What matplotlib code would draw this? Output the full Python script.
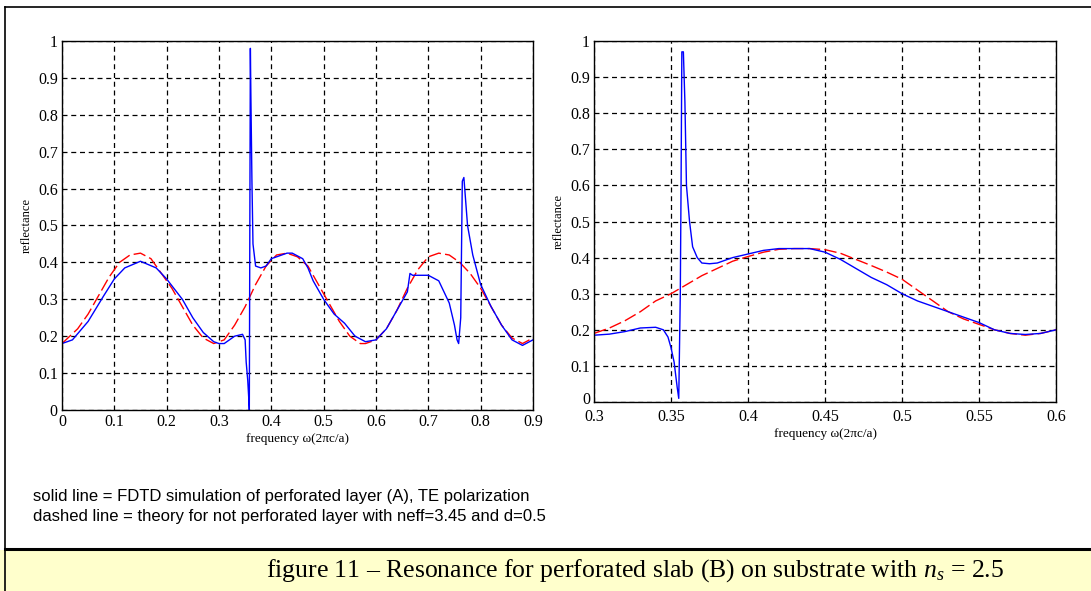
import numpy as np
import matplotlib.pyplot as plt
import matplotlib.transforms as mtransforms
from matplotlib.lines import Line2D
from matplotlib.patches import Rectangle

# left panel: full range
fdtd_left_x = [0.0, 0.02, 0.05, 0.08, 0.10, 0.12, 0.15, 0.18, 0.20, 0.23, 0.25, 0.27,
               0.29, 0.30, 0.31, 0.33, 0.345, 0.35, 0.352, 0.355, 0.357, 0.358, 0.359,
               0.36, 0.361, 0.363, 0.365, 0.37, 0.38, 0.39, 0.40, 0.42, 0.43, 0.44,
               0.46, 0.47, 0.48, 0.50, 0.52, 0.54, 0.56, 0.58, 0.60, 0.62, 0.64, 0.66,
               0.665, 0.67, 0.70, 0.72, 0.73, 0.74, 0.75, 0.755, 0.758, 0.762, 0.765,
               0.768, 0.775, 0.785, 0.80, 0.82, 0.84, 0.86, 0.88, 0.90]
fdtd_left_y = [0.18, 0.19, 0.24, 0.31, 0.355, 0.385, 0.403, 0.385, 0.355, 0.30, 0.25, 0.21,
               0.185, 0.18, 0.18, 0.20, 0.205, 0.19, 0.13, 0.08, 0.03, 0.0, 0.5,
               0.98, 0.85, 0.62, 0.45, 0.39, 0.385, 0.39, 0.41, 0.42, 0.425, 0.425,
               0.41, 0.385, 0.35, 0.30, 0.26, 0.235, 0.20, 0.185, 0.19, 0.22, 0.27, 0.32,
               0.37, 0.365, 0.365, 0.35, 0.32, 0.29, 0.23, 0.19, 0.18, 0.25, 0.62,
               0.63, 0.50, 0.42, 0.34, 0.28, 0.23, 0.19, 0.175, 0.19]

theory_left_x = [0.0, 0.03, 0.05, 0.07, 0.09, 0.11, 0.13, 0.15, 0.17, 0.19, 0.21, 0.23,
                 0.25, 0.27, 0.29, 0.31, 0.33, 0.35, 0.37, 0.39, 0.41, 0.43, 0.45, 0.47,
                 0.49, 0.51, 0.53, 0.55, 0.57, 0.58, 0.60, 0.62, 0.64, 0.66, 0.68, 0.70,
                 0.72, 0.74, 0.76, 0.78, 0.80, 0.82, 0.84, 0.86, 0.88, 0.90]
theory_left_y = [0.18, 0.22, 0.26, 0.31, 0.36, 0.40, 0.42, 0.425, 0.41, 0.37, 0.33, 0.28,
                 0.23, 0.195, 0.18, 0.19, 0.23, 0.28, 0.34, 0.39, 0.42, 0.425, 0.415, 0.39,
                 0.34, 0.29, 0.24, 0.20, 0.18, 0.18, 0.19, 0.22, 0.27, 0.33, 0.38, 0.415,
                 0.425, 0.42, 0.40, 0.37, 0.33, 0.28, 0.23, 0.195, 0.18, 0.195]

# right panel: zoom on 0.3 - 0.6
fdtd_right_x = [0.30, 0.31, 0.32, 0.33, 0.34, 0.345, 0.348, 0.350, 0.352, 0.354, 0.355,
                0.356, 0.3565, 0.357, 0.358, 0.359, 0.36, 0.362, 0.364, 0.367, 0.37,
                0.375, 0.38, 0.39, 0.40, 0.41, 0.42, 0.44, 0.45, 0.46, 0.47, 0.48, 0.49,
                0.50, 0.51, 0.52, 0.53, 0.54, 0.55, 0.56, 0.57, 0.58, 0.59, 0.60]
fdtd_right_y = [0.185, 0.188, 0.195, 0.205, 0.207, 0.20, 0.18, 0.15, 0.11, 0.04, 0.01,
                0.30, 0.60, 0.97, 0.97, 0.83, 0.60, 0.50, 0.43, 0.40, 0.385,
                0.383, 0.385, 0.40, 0.41, 0.42, 0.425, 0.425, 0.415, 0.395, 0.37, 0.345, 0.325,
                0.30, 0.28, 0.265, 0.25, 0.235, 0.22, 0.20, 0.19, 0.187, 0.19, 0.20]

theory_right_x = [0.30, 0.31, 0.32, 0.33, 0.34, 0.35, 0.36, 0.37, 0.38, 0.39, 0.40, 0.41,
                  0.42, 0.43, 0.44, 0.45, 0.46, 0.47, 0.48, 0.49, 0.50, 0.51, 0.52, 0.53,
                  0.54, 0.55, 0.56, 0.57, 0.58, 0.59, 0.60]
theory_right_y = [0.19, 0.205, 0.225, 0.25, 0.28, 0.30, 0.325, 0.35, 0.37, 0.39, 0.403, 0.415,
                  0.423, 0.425, 0.425, 0.422, 0.412, 0.395, 0.378, 0.36, 0.34, 0.31, 0.28, 0.25,
                  0.23, 0.215, 0.20, 0.19, 0.185, 0.19, 0.20]

left_xticks = [0, 0.1, 0.2, 0.3, 0.4, 0.5, 0.6, 0.7, 0.8, 0.9]
left_xlabels = ['0', '0.1', '0.2', '0.3', '0.4', '0.5', '0.6', '0.7', '0.8', '0.9']
right_xticks = [0.3, 0.35, 0.4, 0.45, 0.5, 0.55, 0.6]
right_xlabels = ['0.3', '0.35', '0.4', '0.45', '0.5', '0.55', '0.6']
yticks = [0, 0.1, 0.2, 0.3, 0.4, 0.5, 0.6, 0.7, 0.8, 0.9, 1]
ylabels = ['0', '0.1', '0.2', '0.3', '0.4', '0.5', '0.6', '0.7', '0.8', '0.9', '1']

serif = 'Liberation Serif'
plt.rcParams['mathtext.fontset'] = 'custom'
plt.rcParams['mathtext.rm'] = serif
plt.rcParams['mathtext.it'] = serif + ':italic'

fig = plt.figure(figsize=(10.91, 5.91), dpi=100)
fig.patch.set_facecolor('white')


def setup(ax, xr, xt, xl, xpad):
    ax.set_xlim(*xr)
    ax.set_ylim(0, 1)
    ax.set_xticks(xt)
    ax.set_xticklabels(xl, fontfamily=serif, fontsize=11.5)
    ax.set_yticks(yticks)
    ax.set_yticklabels(ylabels, fontfamily=serif, fontsize=11.5)
    ax.tick_params(direction='in', length=0)
    ax.tick_params(axis='x', pad=xpad)
    ax.tick_params(axis='y', pad=3)
    ax.grid(True, color='black', linestyle=(0, (4, 3)), linewidth=0.9)
    for s in ax.spines.values():
        s.set_linewidth(1.0)
    ax.set_ylabel('reflectance', fontfamily=serif, fontsize=9, labelpad=4)
    ax.set_xlabel('frequency \u03c9(2\u03c0c/a)', fontfamily=serif, fontsize=9.5, labelpad=2)


ax1 = fig.add_axes([0.0568, 0.3063, 0.4317, 0.6244])
ax1.plot(theory_left_x, theory_left_y, color='red', linestyle=(0, (9, 3)), linewidth=1.0)
ax1.plot(fdtd_left_x, fdtd_left_y, color='blue', linewidth=1.0)
setup(ax1, (0, 0.9), left_xticks, left_xlabels, 3)

ax2 = fig.add_axes([0.5445, 0.3198, 0.4235, 0.6108])
ax2.plot(theory_right_x, theory_right_y, color='red', linestyle=(0, (9, 3)), linewidth=1.0)
ax2.plot(fdtd_right_x, fdtd_right_y, color='blue', linewidth=1.0)
setup(ax2, (0.3, 0.6), right_xticks, right_xlabels, 5)
# nudge the bottom y label up so it clears the first x label
lbl0 = ax2.get_yticklabels()[0]
lbl0.set_transform(lbl0.get_transform() +
                   mtransforms.ScaledTranslation(0, 4 / 100, fig.dpi_scale_trans))

# frame and caption box
fig.add_artist(Rectangle((0, 0), 1, 1 - 550 / 591, transform=fig.transFigure,
                         facecolor='#FFFFCC', edgecolor='none', zorder=0))
fig.add_artist(Line2D([5 / 1091, 1], [1 - 7 / 591, 1 - 7 / 591], color='black', linewidth=1.2))
fig.add_artist(Line2D([5 / 1091, 5 / 1091], [0, 1 - 7 / 591], color='black', linewidth=1.2))
fig.add_artist(Line2D([5 / 1091, 1], [1 - 549 / 591, 1 - 549 / 591], color='black', linewidth=2.2))

fig.text(33 / 1091, 1 - 497 / 591, 'solid line = FDTD simulation of perforated layer (A), TE polarization',
         fontfamily='Liberation Sans', fontsize=12, va='center')
fig.text(33 / 1091, 1 - 517 / 591, 'dashed line = theory for not perforated layer with neff=3.45 and d=0.5',
         fontfamily='Liberation Sans', fontsize=12, va='center')
fig.text(635 / 1091, 1 - 571 / 591,
         'figure 11 \u2013 Resonance for perforated slab (B) on substrate with $\\mathit{n}_{s}$ = 2.5',
         fontfamily=serif, fontsize=18.5, ha='center', va='center')

fig.savefig('out.png', dpi=100)
